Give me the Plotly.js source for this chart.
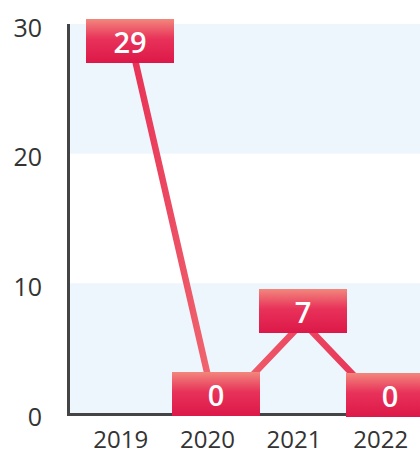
<!DOCTYPE html>
<html>
<head>
<meta charset="utf-8">
<script src="https://cdn.plot.ly/plotly-3.0.1.min.js"></script>
<style>
  html, body { margin: 0; padding: 0; background: #fff; }
  #chart { width: 420px; height: 454px; }
</style>
</head>
<body>
<div id="chart"></div>
<script>
// ---- data ----
const years = ['2019', '2020', '2021', '2022'];
const values = [29, 0, 7, 0];
const yTicks = [0, 10, 20, 30];

// ---- style ----
const labelShift = [-4, 19, 11, 18];   // px, label box offset above point
const bandColor = '#eef6fd';
const xIdx = years.map((_, i) => i);

const shapes = [];
for (let i = 0; i < yTicks.length - 1; i += 2) {
  shapes.push({
    type: 'rect', xref: 'paper', yref: 'y', layer: 'below',
    x0: 0, x1: 1, y0: yTicks[i], y1: yTicks[i + 1],
    fillcolor: bandColor, line: { width: 0 }
  });
}

const annotations = values.map((v, i) => ({
  x: xIdx[i], y: v, xref: 'x', yref: 'y',
  text: String(v), showarrow: false,
  yshift: labelShift[i],
  width: 88, height: 44, borderpad: 0,
  bgcolor: '#e62d55', borderwidth: 0,
  font: { family: 'Open Sans', size: 29, color: '#ffffff', weight: 600 },
  xanchor: 'center', yanchor: 'middle'
}));

const trace = {
  x: xIdx, y: values, type: 'scatter', mode: 'lines',
  line: { color: '#e8335a', width: 6.5 },
  hoverinfo: 'skip', cliponaxis: false
};

const layout = {
  width: 420, height: 454,
  margin: { l: 70, r: 0, t: 24, b: 41, pad: 0 },
  paper_bgcolor: '#ffffff', plot_bgcolor: '#ffffff',
  showlegend: false,
  font: { family: 'Open Sans', color: '#333333', size: 24 },
  xaxis: {
    range: [-0.69, 3.35],
    tickvals: xIdx, ticktext: years,
    showgrid: false, zeroline: false,
    showline: true, linecolor: '#444444', linewidth: 3,
    ticks: '', ticklabelstandoff: 3, ticklabelshift: -9,
    tickfont: { family: 'Open Sans', size: 24, color: '#333333' },
    fixedrange: true
  },
  yaxis: {
    range: [0, 30],
    tickvals: yTicks,
    showgrid: false, zeroline: false,
    showline: true, linecolor: '#444444', linewidth: 3,
    ticks: '', ticklabelstandoff: 20, ticklabelshift: 4,
    tickfont: { family: 'Open Sans', size: 25, color: '#333333' },
    fixedrange: true
  },
  shapes: shapes,
  annotations: annotations
};

Plotly.newPlot('chart', [trace], layout, { displayModeBar: false, staticPlot: true }).then(function (gd) {
  const svgNS = 'http://www.w3.org/2000/svg';
  const defs = gd.querySelector('svg.main-svg defs');
  function grad(id, horizontal, stops) {
    const g = document.createElementNS(svgNS, 'linearGradient');
    g.setAttribute('id', id);
    g.setAttribute('x1', '0'); g.setAttribute('y1', '0');
    g.setAttribute('x2', horizontal ? '1' : '0'); g.setAttribute('y2', horizontal ? '0' : '1');
    stops.forEach(function (s) {
      const st = document.createElementNS(svgNS, 'stop');
      st.setAttribute('offset', s[0]);
      st.setAttribute('stop-color', s[1]);
      g.appendChild(st);
    });
    defs.appendChild(g);
  }
  grad('boxGrad', false, [['0', '#f2877c'], ['0.45', '#e8325a'], ['1', '#dc1848']]);
  grad('lineGrad', true, [['0', '#e82f55'], ['0.33', '#f06a70'], ['0.62', '#ec4a62'], ['1', '#e52e55']]);
  gd.querySelectorAll('.annotation .bg').forEach(function (r) { r.style.fill = 'url(#boxGrad)'; });
  gd.querySelectorAll('.scatterlayer .js-line').forEach(function (p) { p.style.stroke = 'url(#lineGrad)'; });
});
</script>
</body>
</html>
